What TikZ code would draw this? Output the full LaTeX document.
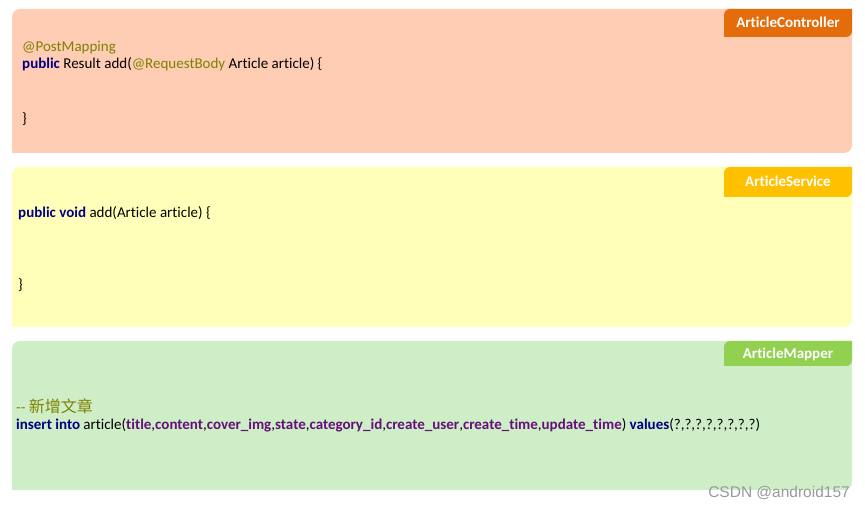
\documentclass[tikz,border=0pt]{standalone}
\usepackage{fontspec}
\setmainfont{Carlito}[Ligatures=NoCommon]
\newfontfamily\cjk{Noto Sans CJK SC}
\newfontfamily\wmfont{Liberation Sans}
\usepackage{tikz}

\definecolor{ctrlbg}{RGB}{255,204,180}
\definecolor{ctrltab}{RGB}{228,108,10}
\definecolor{svcbg}{RGB}{255,255,185}
\definecolor{svctab}{RGB}{255,192,0}
\definecolor{mapbg}{RGB}{206,238,199}
\definecolor{maptab}{RGB}{146,208,80}
\definecolor{annot}{RGB}{128,128,0}
\definecolor{kwblue}{RGB}{0,0,128}
\definecolor{field}{RGB}{102,14,122}

\newcommand{\kw}[1]{\textcolor{kwblue}{\textbf{#1}}}
\newcommand{\ann}[1]{\textcolor{annot}{#1}}
\newcommand{\fld}[1]{\textcolor{field}{\textbf{#1}}}

\tikzset{
  code/.style={anchor=base west, inner sep=0pt, font=\fontsize{15pt}{18pt}\selectfont},
  tabtext/.style={anchor=base, inner sep=0pt, text=white, font=\fontsize{15pt}{18pt}\selectfont\bfseries},
}

\begin{document}
\begin{tikzpicture}[x=1pt, y=1pt]
\useasboundingbox (0,0) rectangle (865,508);

% ArticleController
\fill[ctrlbg] (12,355) -- (12,491) arc[start angle=180, end angle=90, radius=8] -- (852,499) -- (852,363) arc[start angle=0, end angle=-90, radius=8] -- cycle;
\fill[ctrltab] (724,471) -- (724,493) arc[start angle=180, end angle=90, radius=6] -- (852,499) -- (852,477) arc[start angle=0, end angle=-90, radius=6] -- cycle;
\node[tabtext] (ctrltitle) at (788,480) {ArticleController};
\node[code] (ctrl1) at (22,456) {\ann{@PostMapping}};
\node[code] (ctrl2) at (22,439) {\kw{public} Result add(\ann{@RequestBody} Article article) \{};
\node[code] (ctrl3) at (22,384) {\}};

% ArticleService
\fill[svcbg] (12,181) -- (12,333) arc[start angle=180, end angle=90, radius=8] -- (852,341) -- (852,189) arc[start angle=0, end angle=-90, radius=8] -- cycle;
\fill[svctab] (724,311) -- (724,335) arc[start angle=180, end angle=90, radius=6] -- (852,341) -- (852,317) arc[start angle=0, end angle=-90, radius=6] -- cycle;
\node[tabtext] (svctitle) at (788,321) {ArticleService};
\node[code] (svc1) at (18,290) {\kw{public} \kw{void} add(Article article) \{};
\node[code] (svc2) at (18,218) {\}};

% ArticleMapper
\fill[mapbg] (12,18) -- (12,159) arc[start angle=180, end angle=90, radius=8] -- (852,167) -- (852,26) arc[start angle=0, end angle=-90, radius=8] -- cycle;
\fill[maptab] (724,142) -- (724,161) arc[start angle=180, end angle=90, radius=6] -- (852,167) -- (852,148) arc[start angle=0, end angle=-90, radius=6] -- cycle;
\node[tabtext] (maptitle) at (788,149) {ArticleMapper};
\node[code] (map1) at (16,95) {\ann{-{}- {\cjk\fontsize{16pt}{18pt}\selectfont 新增文章}}};
\node[code] (map2) at (16,78) {\kw{insert into} article(\fld{title},\fld{content},\fld{cover\_img},\fld{state},\fld{category\_id},\fld{create\_user},\fld{create\_time},\fld{update\_time}) \kw{values}(?,?,?,?,?,?,?,?)};

\node[anchor=base east, inner sep=0pt, text=black!40, font=\wmfont\fontsize{15.5pt}{17pt}\selectfont] (mark) at (850,10) {CSDN @android157};
\end{tikzpicture}
\end{document}
